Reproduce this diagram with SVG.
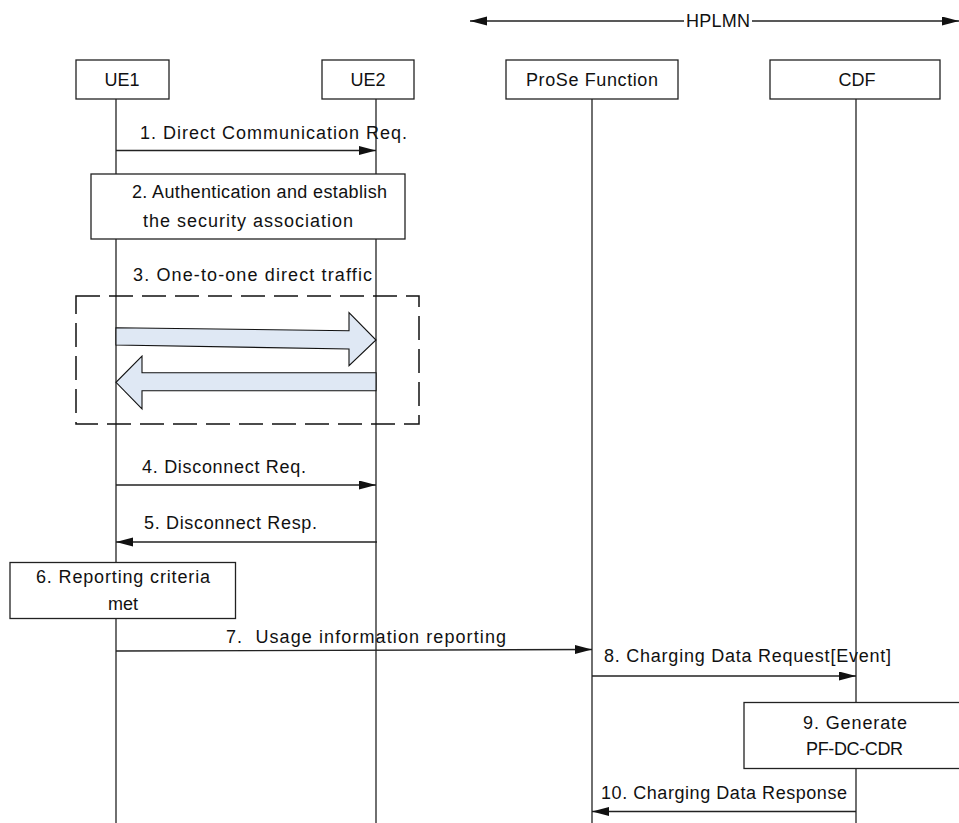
<svg xmlns="http://www.w3.org/2000/svg" width="959" height="823" viewBox="0 0 959 823">
<style>
text{font-family:"Liberation Sans",Arial,sans-serif;font-size:18px;fill:#111}
.c{text-anchor:middle}
.box{fill:#fff;stroke:#222;stroke-width:1.3}
.life{stroke:#222;stroke-width:1.3;fill:none}
.msg{stroke:#222;stroke-width:1.3;fill:none;marker-end:url(#ah)}
.blk{fill:#dfe8f4;stroke:#111;stroke-width:1.1}
.dash{fill:none;stroke:#111;stroke-width:1.5;stroke-dasharray:24 9}
</style>
<defs>
<marker id="ah" markerUnits="userSpaceOnUse" markerWidth="18" markerHeight="10" refX="17" refY="4.5" orient="auto-start-reverse">
<path d="M0,0 L17,4.5 L0,9 Z" fill="#111"/>
</marker>
</defs>
<rect width="959" height="823" fill="#fff"/>

<g id="lifelines">
<line class="life" x1="116" y1="99" x2="116" y2="823"/>
<line class="life" x1="376" y1="99" x2="376" y2="823"/>
<line class="life" x1="592" y1="99" x2="592" y2="823"/>
<line class="life" x1="856" y1="99" x2="856" y2="823"/>
</g>

<g id="hplmn">
<line class="life" x1="684" y1="21" x2="470" y2="21" style="marker-end:url(#ah)"/>
<line class="life" x1="752" y1="21" x2="959" y2="21" style="marker-end:url(#ah)"/>
<text x="686" y="27" textLength="64">HPLMN</text>
</g>

<g id="ue1">
<rect class="box" x="76" y="60" width="93" height="39"/>
<text class="c" x="122" y="86">UE1</text>
</g>
<g id="ue2">
<rect class="box" x="322" y="60" width="92" height="39"/>
<text class="c" x="368" y="86">UE2</text>
</g>
<g id="prose">
<rect class="box" x="506" y="60" width="172" height="39"/>
<text x="526" y="86" textLength="132">ProSe Function</text>
</g>
<g id="cdf">
<rect class="box" x="770" y="60" width="170" height="39"/>
<text class="c" x="857" y="86">CDF</text>
</g>

<g id="step2">
<rect class="box" x="91" y="174" width="314" height="65"/>
<text x="132" y="198" textLength="255">2. Authentication and establish</text>
<text x="143" y="227" textLength="210">the security association</text>
</g>

<g id="step3">
<rect class="dash" x="76" y="296" width="343" height="128"/>
<text x="133" y="281" textLength="239">3. One-to-one direct traffic</text>
<polygon class="blk" points="116,327.7 349,330.7 349,312.7 376,340 349,365.7 349,349 116,345"/>
<polygon class="blk" points="376,372.7 142,372.7 142,356 116,382.3 142,409 142,390.7 376,390.7"/>
</g>

<g id="step6">
<rect class="box" x="10" y="562.5" width="225.5" height="56"/>
<text x="36" y="583" textLength="174">6. Reporting criteria</text>
<text class="c" x="123" y="610">met</text>
</g>

<g id="step9">
<rect class="box" x="744" y="702.5" width="225" height="66"/>
<text x="803" y="728.5" textLength="104">9. Generate</text>
<text x="806" y="755" textLength="97">PF-DC-CDR</text>
</g>

<g id="connectors">
<line class="msg" x1="116" y1="150.5" x2="376" y2="150.5"/>
<text x="140" y="139" textLength="267">1. Direct Communication Req.</text>
<line class="msg" x1="116" y1="485" x2="376" y2="485"/>
<text x="142" y="473" textLength="164">4. Disconnect Req.</text>
<line class="msg" x1="377" y1="542" x2="116" y2="542"/>
<text x="144" y="529" textLength="173">5. Disconnect Resp.</text>
<line class="msg" x1="116" y1="651" x2="592" y2="649.5"/>
<text x="226" y="643" textLength="280" xml:space="preserve">7.  Usage information reporting</text>
<line class="msg" x1="592" y1="676" x2="856" y2="676"/>
<text x="604" y="662" textLength="287">8. Charging Data Request[Event]</text>
<line class="msg" x1="856" y1="811.5" x2="592" y2="811.5"/>
<text x="601" y="799" textLength="246">10. Charging Data Response</text>
</g>
</svg>
